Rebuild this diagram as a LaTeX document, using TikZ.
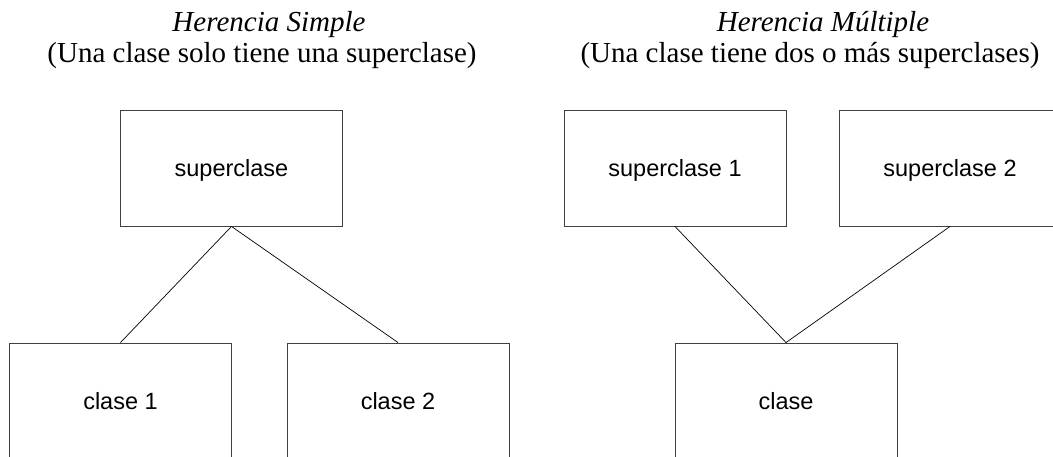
\documentclass[tikz,border=0pt]{standalone}
\usepackage{fontspec}
\setmainfont{Liberation Serif}
\newfontfamily\boxfont{Liberation Sans}
\begin{document}
\begin{tikzpicture}[x=1pt,y=-1pt,
  classbox/.style={draw=black!75, line width=0.9pt, rectangle, minimum width=222pt, minimum height=116pt,
    inner sep=0pt, font=\boxfont\fontsize{23.5}{28}\selectfont, text height=16.5pt, text depth=0pt},
  link/.style={draw=black, line width=0.7pt},
  heading/.style={anchor=base, inner sep=0pt, font=\fontsize{29}{34}\selectfont\itshape},
  subheading/.style={anchor=base, inner sep=0pt, font=\fontsize{29}{34}\selectfont}]
\useasboundingbox (0,0) rectangle (1053,457);
% titles
\node[heading] (t1) at (269,32) {Herencia Simple};
\node[subheading] (s1) at (262,63) {(Una clase solo tiene una superclase)};
\node[heading] (t2) at (823,32) {Herencia Múltiple};
\node[subheading] (s2) at (810,63) {(Una clase tiene dos o más superclases)};
% simple inheritance
\node[classbox] (sup) at (231.5,168) {superclase};
\node[classbox] (c1) at (120.5,401) {clase 1};
\node[classbox] (c2) at (398,401) {clase 2};
\draw[link] (sup.south) -- (c1.north);
\draw[link] (sup.south) -- (c2.north);
% multiple inheritance
\node[classbox] (sup1) at (675,168) {superclase 1};
\node[classbox] (sup2) at (950,168) {superclase 2};
\node[classbox] (cl) at (786,401) {clase};
\draw[link] (sup1.south) -- (cl.north);
\draw[link] (sup2.south) -- (cl.north);
\end{tikzpicture}
\end{document}
